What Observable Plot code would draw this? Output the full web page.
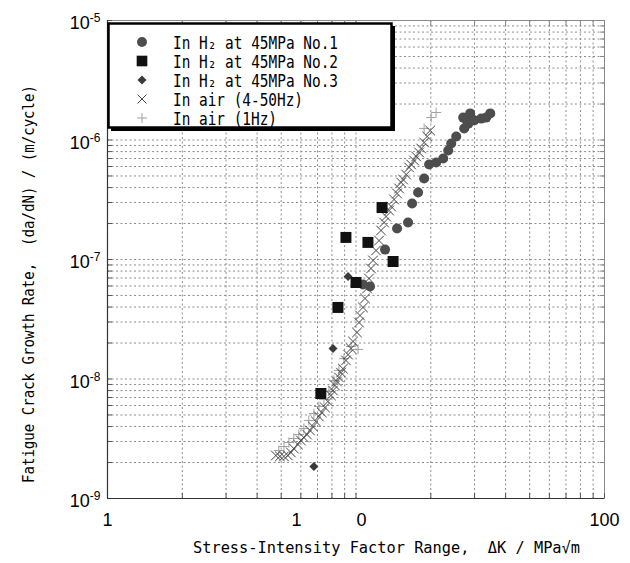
<!DOCTYPE html>
<html><head><meta charset="utf-8">
<script src="https://cdn.jsdelivr.net/npm/d3@7"></script>
<script src="https://cdn.jsdelivr.net/npm/@observablehq/plot@0.6"></script>
<style>
html,body{margin:0;padding:0;background:#fff;}
#chart{width:630px;height:563px;}
</style></head>
<body><div id="chart"></div>
<script>
// ---- data (ΔK in MPa√m, da/dN in m/cycle) ----
const h2No1K    = [10.67,11.39,13.09,14.63,16.20,16.82,17.78,18.80,19.69,21.03,22.44,23.50,24.16,25.31,27.25,28.03,27.0,28.8,28.3,29.9,31.9,33.4,34.7];
const h2No1Rate = [6.18e-8,5.94e-8,1.21e-7,1.82e-7,2.04e-7,2.94e-7,3.64e-7,4.76e-7,6.24e-7,6.48e-7,7.0e-7,8.17e-7,9.35e-7,1.07e-6,1.25e-6,1.43e-6,1.54e-6,1.67e-6,1.37e-6,1.46e-6,1.51e-6,1.54e-6,1.67e-6];
const h2No2K    = [7.22,8.46,9.11,10.0,11.17,12.73,14.10];
const h2No2Rate = [7.56e-9,3.97e-8,1.53e-7,6.42e-8,1.39e-7,2.72e-7,9.62e-8];
const h2No3K    = [6.77,8.08,9.29];
const h2No3Rate = [1.85e-9,1.8e-8,7.2e-8];
const airHfK    = [4.76,4.94,5.13,5.32,5.47,5.62,5.84,6.00,6.17,6.35,6.53,6.71,6.90,7.09,7.29,7.50,7.71,7.93,8.08,8.23,8.38,8.54,8.70,8.86,9.11,9.29,9.55,9.73,10.09,10.28,10.38,10.67,10.87,11.08,11.28,11.49,11.71,12.04,12.38,12.61,12.97,13.21,13.59,13.84,14.23,14.63,14.91,15.19,15.47,15.91,16.36,16.67,17.13,17.46,17.95,18.29,18.80,19.34,19.88];
const airHfRate = [2.29e-9,2.25e-9,2.25e-9,2.29e-9,2.43e-9,2.62e-9,2.83e-9,3.06e-9,3.24e-9,3.43e-9,3.71e-9,4.00e-9,4.41e-9,4.86e-9,5.24e-9,5.77e-9,6.48e-9,7.28e-9,8.01e-9,8.82e-9,9.53e-9,1.03e-8,1.13e-8,1.22e-8,1.43e-8,1.60e-8,1.80e-8,2.06e-8,2.45e-8,2.97e-8,3.40e-8,3.97e-8,4.72e-8,5.72e-8,6.93e-8,8.41e-8,9.81e-8,1.19e-7,1.44e-7,1.75e-7,2.04e-7,2.29e-7,2.57e-7,2.78e-7,3.18e-7,3.57e-7,3.93e-7,4.41e-7,4.67e-7,5.14e-7,5.89e-7,6.24e-7,6.74e-7,7.28e-7,7.86e-7,8.49e-7,9.53e-7,1.07e-6,1.20e-6];
const air1HzK    = [4.89,5.13,5.37,5.62,5.89,6.17,6.46,6.77,7.09,7.43,7.78,8.15,8.54,8.94,9.55,10.19,18.80,20.07,21.01];
const air1HzRate = [2.52e-9,2.72e-9,2.94e-9,3.18e-9,3.43e-9,3.85e-9,4.49e-9,5.14e-9,5.89e-9,6.74e-9,7.86e-9,9.71e-9,1.18e-8,1.48e-8,1.87e-8,1.77e-8,1.25e-6,1.54e-6,1.70e-6];

const seriesLabels = ["In H\u2082 at 45MPa No.1","In H\u2082 at 45MPa No.2","In H\u2082 at 45MPa No.3","In air (4-50Hz)","In air (1Hz)"];

// ---- axes ----
const xGridTicks = [1,2,3,4,5,6,7,8,9,10,20,30,40,50,60,70,80,90,100];
const yGridTicks = [1e-9,2e-9,3e-9,4e-9,5e-9,6e-9,7e-9,8e-9,9e-9,1e-8,2e-8,3e-8,4e-8,5e-8,6e-8,7e-8,8e-8,9e-8,1e-7,2e-7,3e-7,4e-7,5e-7,6e-7,7e-7,8e-7,9e-7,1e-6,2e-6,3e-6,4e-6,5e-6,6e-6,7e-6,8e-6,9e-6,1e-5];
const yTickValues = [1e-9,1e-8,1e-7,1e-6,1e-5];
const yTickExps   = ["-9","-8","-7","-6","-5"];
const xTickValues = [1,100];
const xTickLabels = ["1","100"];
const xMidTickValue = [10];
const xMidTickLabel = "1\u00a0\u00a0\u00a0\u00a0\u00a0\u00a0\u00a0\u00a0\u00a0\u00a0\u00a00";
const xTitle = "Stress-Intensity Factor Range,  \u0394K / MPa\u221am";
const yTitle = "Fatigue Crack Growth Rate,  (da/dN) / (m/cycle)";

const colors = {no1:"#4d4d4d", no2:"#111111", no3:"#3a3a3a", hf:"#444444", lf:"#a0a0a0"};

const zip = (a,b) => a.map((v,i)=>({k:v, r:b[i]}));
const diamondSym = {draw(c,s){const h=Math.sqrt(s/Math.PI); c.moveTo(0,-h); c.lineTo(h,0); c.lineTo(0,h); c.lineTo(-h,0); c.closePath();}};
const timesSym = {draw(c,s){const h=Math.sqrt(s/Math.PI); c.moveTo(-h,-h); c.lineTo(h,h); c.moveTo(h,-h); c.lineTo(-h,h);}};
const plusSym  = {draw(c,s){const h=Math.sqrt(s/Math.PI); c.moveTo(-h,0); c.lineTo(h,0); c.moveTo(0,-h); c.lineTo(0,h);}};

const xLab = new Map(xTickValues.map((v,i)=>[v,xTickLabels[i]]));
const yLab = new Map(yTickValues.map((v,i)=>[v,yTickExps[i]]));
const gridStyle = {stroke:"#8c8c8c", strokeOpacity:1, strokeWidth:1, strokeDasharray:"2,2.5"};
const noTxt = () => "";

const el = Plot.plot({
  width:630, height:563,
  marginLeft:107, marginRight:26, marginTop:20, marginBottom:65,
  x:{type:"log", domain:[1,100], axis:null, label:null},
  y:{type:"log", domain:[1e-9,1e-5], axis:null, label:null},
  style:{fontFamily:"'Liberation Sans', Arial, sans-serif", fontSize:"18px", background:"#fff", color:"#000"},
  marks:[
    Plot.gridX(xGridTicks, gridStyle),
    Plot.gridY(yGridTicks, gridStyle),
    Plot.frame({stroke:"#8a8a8a"}),
    Plot.axisY(yGridTicks, {anchor:"left", label:null, tickSize:5, dx:5, tickFormat:noTxt, stroke:"#555"}),
    Plot.axisY(yGridTicks, {anchor:"right", label:null, tickSize:5, dx:-5, tickFormat:noTxt, stroke:"#888"}),
    Plot.axisX(xGridTicks, {anchor:"top", label:null, tickSize:5, dy:5, tickFormat:noTxt, stroke:"#888"}),
    Plot.axisX(xGridTicks, {anchor:"bottom", label:null, tickSize:5, dy:-5, tickFormat:noTxt, stroke:"#555"}),
    Plot.axisY(yTickValues, {anchor:"left", label:null, tickSize:0, tickPadding:7, dy:3, tickFormat:d=>"10^"+yLab.get(d), fontSize:18}),
    Plot.axisX(xTickValues, {anchor:"bottom", label:null, tickSize:0, tickPadding:15, tickFormat:d=>xLab.get(d), fontSize:18}),
    Plot.axisX(xMidTickValue, {anchor:"bottom", label:null, tickSize:0, tickPadding:15, dx:-27, tickFormat:()=>xMidTickLabel, fontSize:18}),
    Plot.ruleX([1], {stroke:"#333", strokeWidth:1.2}),
    Plot.ruleY([1e-9], {stroke:"#333", strokeWidth:1.2}),
    Plot.dot(zip(air1HzK, air1HzRate), {x:"k", y:"r", symbol:plusSym, r:5, fill:"none", stroke:colors.lf, strokeWidth:1}),
    Plot.dot(zip(airHfK, airHfRate), {x:"k", y:"r", symbol:timesSym, r:4.8, fill:"none", stroke:colors.hf, strokeWidth:1}),
    Plot.dot(zip(h2No1K, h2No1Rate), {x:"k", y:"r", symbol:"circle", r:5, fill:colors.no1, stroke:"none"}),
    Plot.dot(zip(h2No3K, h2No3Rate), {x:"k", y:"r", symbol:diamondSym, r:4.5, fill:colors.no3, stroke:"none"}),
    Plot.dot(zip(h2No2K, h2No2Rate), {x:"k", y:"r", symbol:"square", r:6.2, fill:colors.no2, stroke:"none"})
  ]
});
document.getElementById("chart").appendChild(el);

const svg = d3.select(el);
// superscripts on y tick labels
svg.selectAll("text").each(function(){
  const t = this.textContent;
  if (t.startsWith("10^")) {
    const s = d3.select(this); s.text(null);
    s.append("tspan").text("10");
    s.append("tspan").attr("dy","-7").attr("font-size","12").text(t.slice(3));
  }
});
svg.selectAll("text").attr("xml:space","preserve");

// axis titles
const mono = "'DejaVu Sans Mono', 'Liberation Mono', monospace";
svg.append("text").attr("x",193).attr("y",553).attr("text-anchor","start").attr("font-family",mono).attr("font-size",16)
  .attr("fill","#000").attr("textLength",387).attr("lengthAdjust","spacingAndGlyphs").attr("xml:space","preserve").text(xTitle);
svg.append("text").attr("transform","translate(34,483) rotate(-90)").attr("text-anchor","start").attr("font-family",mono).attr("font-size",16)
  .attr("fill","#000").attr("textLength",398).attr("lengthAdjust","spacingAndGlyphs").attr("xml:space","preserve").text(yTitle);

// legend box
const lg = svg.append("g");
lg.append("rect").attr("x",111).attr("y",26).attr("width",284).attr("height",105).attr("fill","#000");
lg.append("rect").attr("x",108.5).attr("y",23.5).attr("width",283).attr("height",104).attr("fill","#fff").attr("stroke","#000").attr("stroke-width",2.5);
const legSyms = [
  {sym:d3.symbolCircle, size:Math.PI*25, fill:colors.no1, stroke:"none"},
  {sym:d3.symbolSquare, size:Math.PI*6*6, fill:colors.no2, stroke:"none"},
  {sym:diamondSym, size:Math.PI*4.5*4.5, fill:colors.no3, stroke:"none"},
  {sym:timesSym, size:Math.PI*4.5*4.5, fill:"none", stroke:colors.hf},
  {sym:plusSym, size:Math.PI*5*5, fill:"none", stroke:colors.lf}
];
const legLens = [165,165,165,130,104];
seriesLabels.forEach((lab,i)=>{
  const cy = 42 + 19*i;
  const s = legSyms[i];
  lg.append("path").attr("d", d3.symbol(s.sym, s.size)()).attr("transform",`translate(142,${cy})`)
    .attr("fill",s.fill).attr("stroke",s.stroke).attr("stroke-width",1);
  lg.append("text").attr("x",173).attr("y",cy+7).attr("text-anchor","start").attr("font-family",mono).attr("font-size",17)
    .attr("fill","#000").attr("textLength",legLens[i]).attr("lengthAdjust","spacingAndGlyphs").attr("xml:space","preserve").text(lab);
});
</script>
</body></html>
